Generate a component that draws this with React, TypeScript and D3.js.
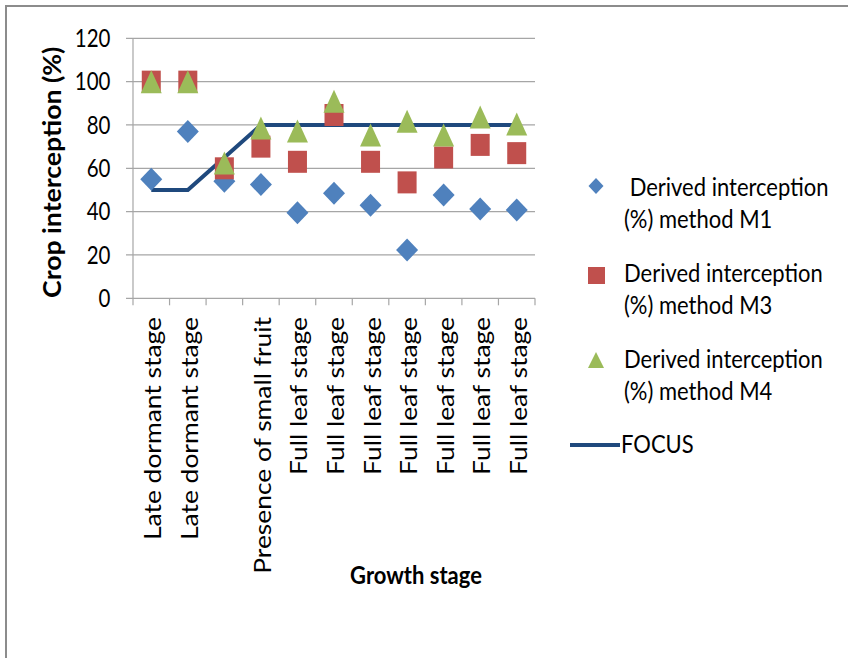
import React from "react";
import * as d3 from "d3";

const categories = [
  "Late dormant stage",
  "Late dormant stage",
  "",
  "Presence of small fruit",
  "Full leaf stage",
  "Full leaf stage",
  "Full leaf stage",
  "Full leaf stage",
  "Full leaf stage",
  "Full leaf stage",
  "Full leaf stage",
];
const m1 = [55, 77, 54, 52.5, 39.5, 48.5, 43, 22.3, 47.7, 41.2, 40.8];
const m3 = [100, 100, 60, 70, 63, 84.6, 63, 53.5, 65, 70.8, 67];
const m4 = [100, 100, 62.4, 78.6, 77.2, 91, 75.4, 81.7, 75.4, 83.7, 80.5];
const focus = [50, 50, 65, 80, 80, 80, 80, 80, 80, 80, 80];
const yTicks = [0, 20, 40, 60, 80, 100, 120];

const legendLabels = [
  [" Derived interception", "(%) method M1"],
  ["Derived interception", "(%) method M3"],
  ["Derived interception", "(%) method M4"],
];

const FONT = "Lato, 'Open Sans', sans-serif";
const C1 = "#4F81BD";
const C3 = "#C0504D";
const C4 = "#9BBB59";
const CF = "#1F497D";
const GRID = "#A6A6A6";
const SY = 1.12; // vertical stretch of the original rendering

export default function App() {
  const x0 = 133,
    x1 = 535,
    yTop = 38.3,
    yBot = 298.3;
  const x = d3
    .scaleBand<number>()
    .domain(categories.map((_, i) => i))
    .range([x0, x1])
    .padding(0);
  const y = d3.scaleLinear().domain([0, 120]).range([yBot, yTop]);
  const cx = (i: number) => (x(i) as number) + x.bandwidth() / 2;

  const line = d3
    .line<number>()
    .x((_, i) => cx(i))
    .y((d) => y(d));

  const diamond = (px: number, py: number, w: number, h: number) =>
    `M${px},${py - h / 2}L${px + w / 2},${py}L${px},${py + h / 2}L${px - w / 2},${py}Z`;
  const triangle = (px: number, py: number, w: number, h: number) =>
    `M${px},${py - h / 2}L${px + w / 2},${py + h / 2}L${px - w / 2},${py + h / 2}Z`;

  const boundaries = d3.range(categories.length + 1).map((i) => x0 + i * x.bandwidth());

  return (
    <svg
      width={848}
      height={658}
      style={{ position: "absolute", left: 0, top: 0, background: "#fff" }}
      fontFamily={FONT}
    >
      <rect x={0} y={0} width={848} height={658} fill="#fff" />
      {/* outer border */}
      <line x1={5} x2={848} y1={6} y2={6} stroke="#8C8C8C" strokeWidth={2} />
      <line x1={6} x2={6} y1={5} y2={658} stroke="#8C8C8C" strokeWidth={2} />

      {/* gridlines */}
      {yTicks.map((t) => (
        <line key={t} x1={126} x2={x1} y1={y(t)} y2={y(t)} stroke={GRID} strokeWidth={1.2} />
      ))}
      {/* y axis */}
      <line x1={x0} x2={x0} y1={yTop} y2={yBot} stroke={GRID} strokeWidth={1.2} />
      {/* x tick marks */}
      {boundaries.map((b, i) => (
        <line key={i} x1={b} x2={b} y1={yBot} y2={yBot + 7} stroke={GRID} strokeWidth={1.2} />
      ))}
      {/* y tick labels */}
      {yTicks.map((t) => (
        <text
          key={t}
          transform={`translate(110.5,${y(t)}) scale(1,1.2)`}
          dy="0.36em"
          textAnchor="end"
          fontSize={20.5}
          fill="#000"
        >
          {t}
        </text>
      ))}
      {/* y title */}
      <text
        transform={`translate(61,${(yTop + yBot) / 2 + 4}) rotate(-90) scale(1.11,1)`}
        textAnchor="middle"
        fontSize={24}
        fontWeight="bold"
        fill="#000"
      >
        Crop interception (%)
      </text>
      {/* x labels */}
      {categories.map((c, i) => (
        <text
          key={i}
          transform={`translate(${cx(i) + 10},317) rotate(-90) scale(1.1,1)`}
          textAnchor="end"
          fontSize={24}
          fill="#000"
        >
          {c}
        </text>
      ))}
      <text
        transform={`translate(416,584) scale(1,${SY})`}
        textAnchor="middle"
        fontSize={22}
        fontWeight="bold"
        fill="#000"
      >
        Growth stage
      </text>

      {/* FOCUS line */}
      <path d={line(focus) || ""} fill="none" stroke={CF} strokeWidth={4} />
      {/* markers */}
      {m1.map((v, i) => (
        <path key={"a" + i} d={diamond(cx(i), y(v), 22, 23)} fill={C1} />
      ))}
      {m3.map((v, i) => (
        <rect key={"b" + i} x={cx(i) - 9.5} y={y(v) - 11} width={19} height={22} fill={C3} />
      ))}
      {m4.map((v, i) => (
        <path key={"c" + i} d={triangle(cx(i), y(v), 21, 23)} fill={C4} />
      ))}

      {/* legend */}
      <path d={diamond(596, 186, 15, 16)} fill={C1} />
      <rect x={588} y={267} width={17} height={17} fill={C3} />
      <path d={triangle(596, 360, 16, 16)} fill={C4} />
      <line x1={570} x2={620} y1={445} y2={445} stroke={CF} strokeWidth={4} />
      {legendLabels.map((ls, k) => (
        <g key={k}>
          <text
            transform={`translate(624,${196 + k * 86}) scale(1,${SY})`}
            fontSize={22}
            fill="#000"
            style={{ whiteSpace: "pre" }}
          >
            {ls[0]}
          </text>
          <text transform={`translate(624,${228 + k * 86}) scale(1,${SY})`} fontSize={22} fill="#000">
            {ls[1]}
          </text>
        </g>
      ))}
      <text transform={`translate(621,453) scale(1,${SY})`} fontSize={22} fill="#000">
        FOCUS
      </text>
    </svg>
  );
}
